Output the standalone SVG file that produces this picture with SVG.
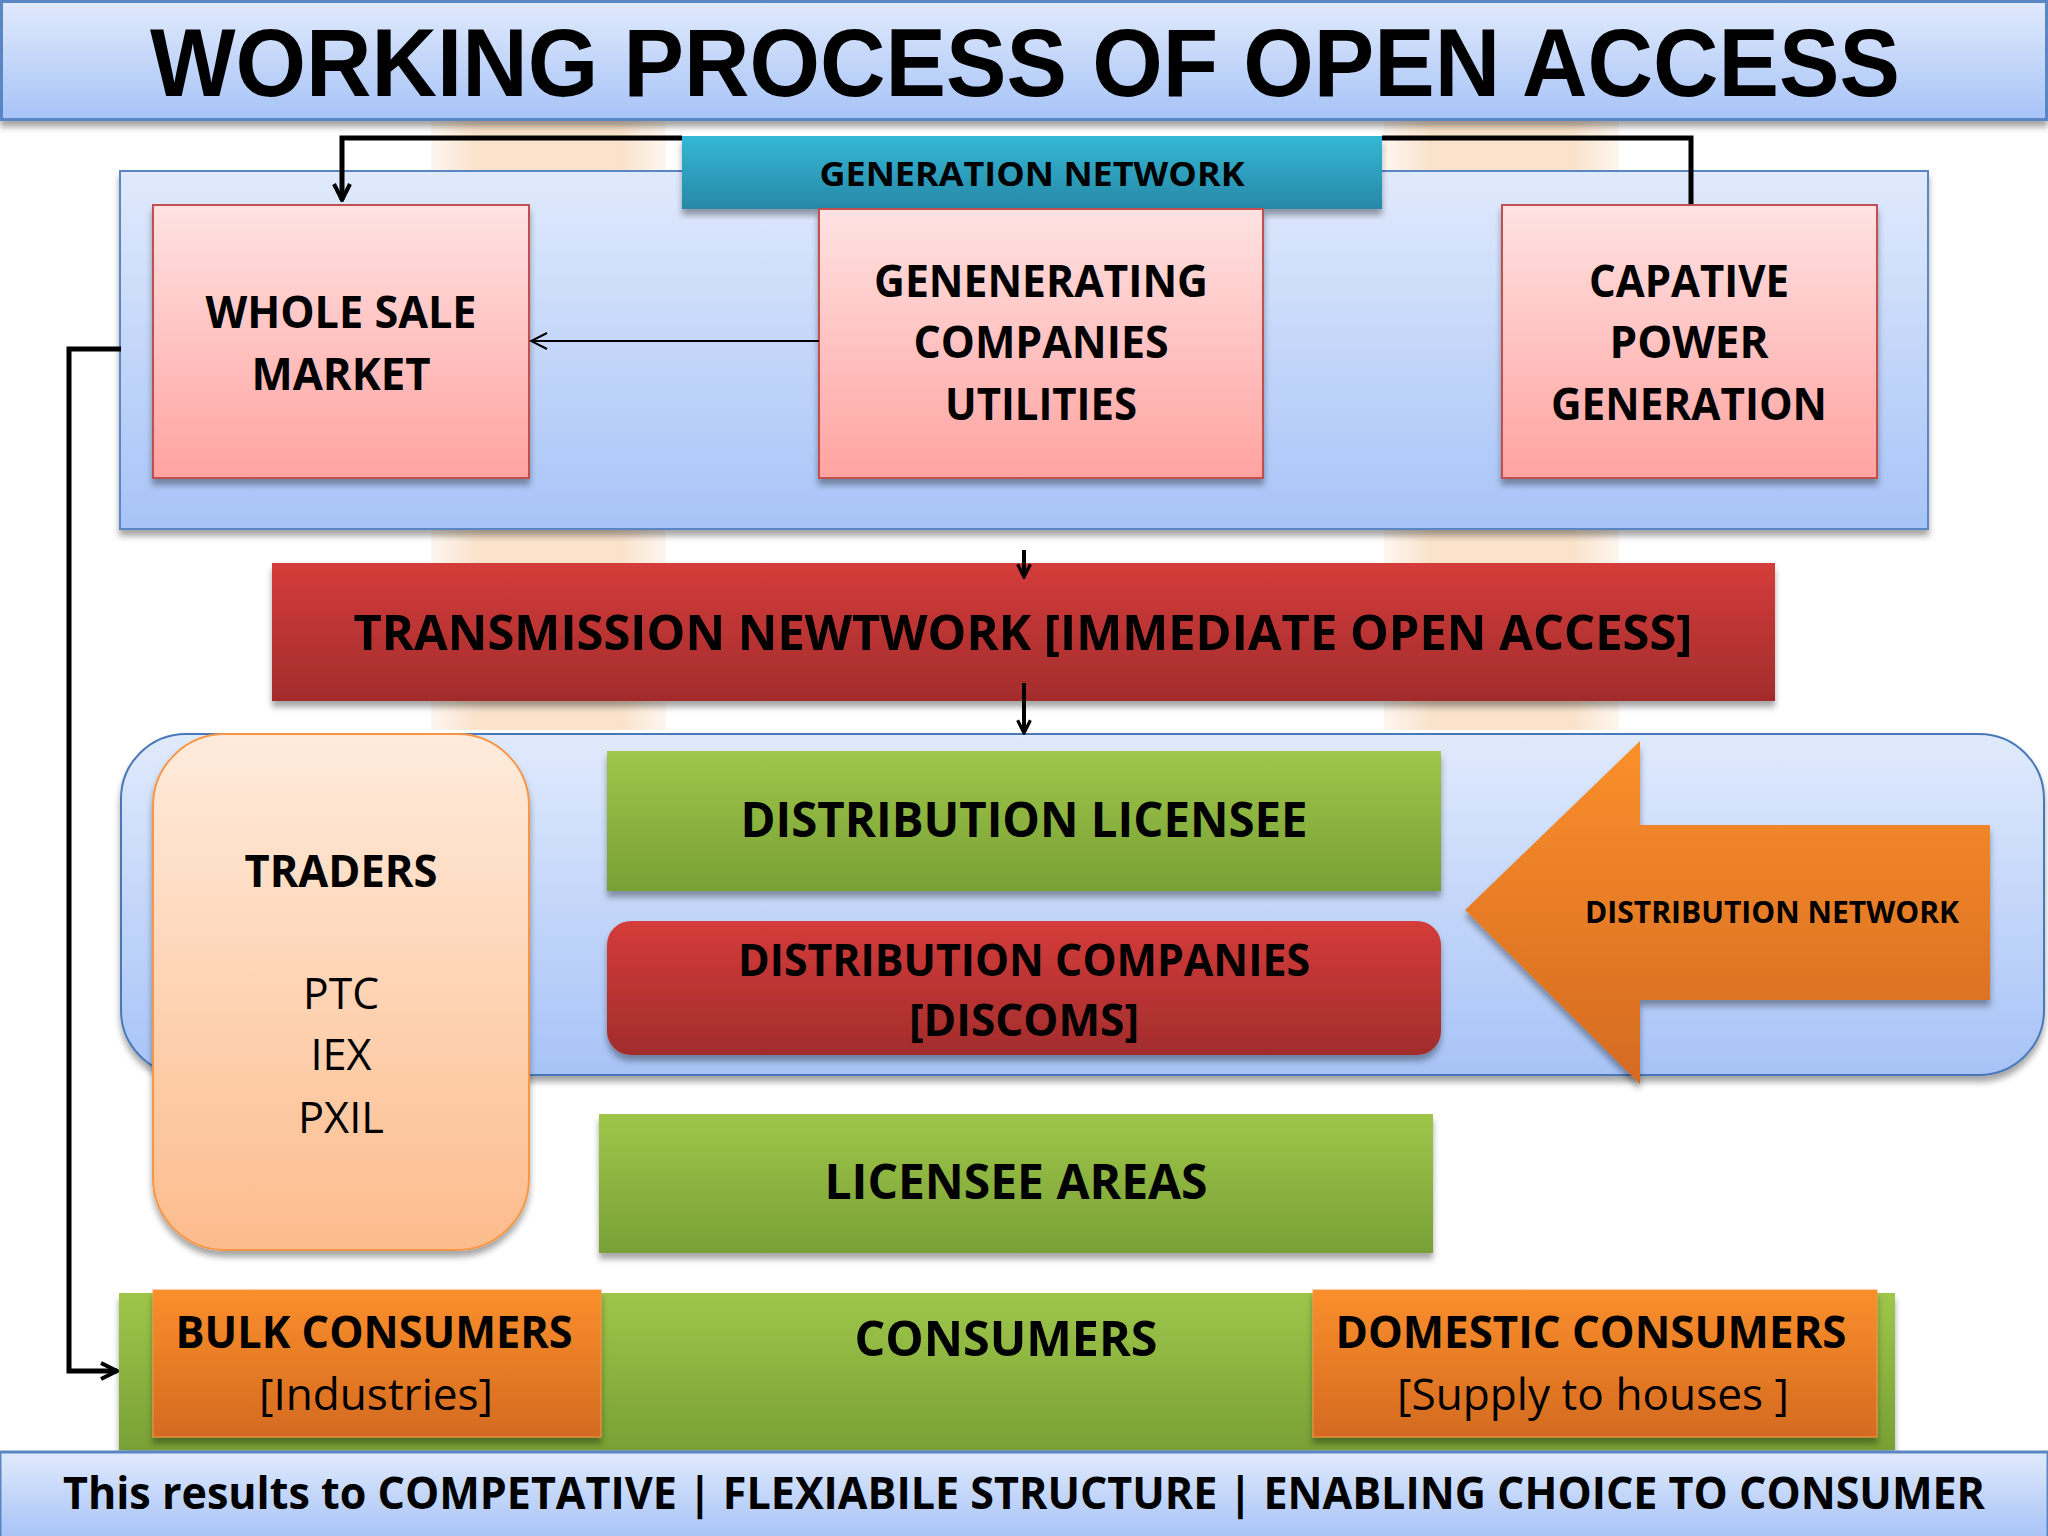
<svg xmlns="http://www.w3.org/2000/svg" width="2048" height="1536" viewBox="0 0 2048 1536">
<defs>
<linearGradient id="gBlue" x1="0" y1="0" x2="0" y2="1"><stop offset="0" stop-color="#e0eafc"/><stop offset="1" stop-color="#a7c3f7"/></linearGradient>
<linearGradient id="gTeal" x1="0" y1="0" x2="0" y2="1"><stop offset="0" stop-color="#33b8d6"/><stop offset="1" stop-color="#2888a6"/></linearGradient>
<linearGradient id="gPink" x1="0" y1="0" x2="0" y2="1"><stop offset="0" stop-color="#ffe2e2"/><stop offset="1" stop-color="#ffa3a0"/></linearGradient>
<linearGradient id="gRed" x1="0" y1="0" x2="0" y2="1"><stop offset="0" stop-color="#d43c3a"/><stop offset="1" stop-color="#a22c2c"/></linearGradient>
<linearGradient id="gGreen" x1="0" y1="0" x2="0" y2="1"><stop offset="0" stop-color="#9fc64a"/><stop offset="1" stop-color="#78a035"/></linearGradient>
<linearGradient id="gOrange" x1="0" y1="0" x2="0" y2="1"><stop offset="0" stop-color="#fa8f2c"/><stop offset="1" stop-color="#d46a20"/></linearGradient>
<linearGradient id="gPeach" x1="0" y1="0" x2="0" y2="1"><stop offset="0" stop-color="#ffebdc"/><stop offset="1" stop-color="#fcbc8c"/></linearGradient>
<linearGradient id="gWm" x1="0" y1="0" x2="1" y2="0"><stop offset="0" stop-color="#f6cfa8" stop-opacity="0.3"/><stop offset="0.2" stop-color="#f6cfa8"/><stop offset="0.8" stop-color="#f6cfa8"/><stop offset="1" stop-color="#f6cfa8" stop-opacity="0.3"/></linearGradient>
<filter id="sh" x="-5%" y="-5%" width="110%" height="120%"><feDropShadow dx="0" dy="6" stdDeviation="3" flood-color="#000" flood-opacity="0.35"/></filter>
<marker id="ah" viewBox="0 0 10 10" refX="9" refY="5" markerWidth="4" markerHeight="4" orient="auto"><path d="M1,1 L9,5 L1,9" fill="none" stroke="#000" stroke-width="2"/></marker>
<marker id="ahThin" viewBox="0 0 10 10" refX="9" refY="5" markerWidth="10" markerHeight="10" orient="auto"><path d="M1,1 L9,5 L1,9" fill="none" stroke="#000" stroke-width="1"/></marker>
<style>
text{font-family:"Open Sans","Liberation Sans",sans-serif;fill:#000;text-anchor:middle}
.b{font-weight:bold}
.r{font-weight:normal}
.t{font-family:"Liberation Sans","Open Sans",sans-serif}
.conn{fill:none;stroke:#000;stroke-width:5}
</style>
</defs>
<rect x="0" y="0" width="2048" height="1536" fill="#ffffff"/>
<g id="watermark" opacity="0.6">
<rect x="431" y="110" width="235" height="620" fill="url(#gWm)"/>
<rect x="1384" y="110" width="235" height="620" fill="url(#gWm)"/>
</g>
<g id="title">
<rect x="1.5" y="1.5" width="2045" height="118" fill="url(#gBlue)" stroke="#5a86c4" stroke-width="3" filter="url(#sh)"/>
<text class="b t" x="1025" y="96" font-size="96" textLength="1750" lengthAdjust="spacingAndGlyphs">WORKING PROCESS OF OPEN ACCESS</text>
</g>
<g id="generation-network">
<rect x="120" y="171" width="1808" height="358" fill="url(#gBlue)" stroke="#5a86c4" stroke-width="2" filter="url(#sh)"/>
</g>
<g id="connectors-top">
<path class="conn" d="M682,138 L342,138 L342,200" marker-end="url(#ah)"/>
<path class="conn" d="M1382,138 L1691,138 L1691,205"/>
</g>
<g id="gen-network-label">
<rect x="682" y="136" width="700" height="73" fill="url(#gTeal)" filter="url(#sh)"/>
<text class="b" x="1032" y="186" font-size="34" textLength="425" lengthAdjust="spacingAndGlyphs">GENERATION NETWORK</text>
</g>
<g id="wholesale-market">
<rect x="153" y="205" width="376" height="273" fill="url(#gPink)" stroke="#c0504d" stroke-width="2" filter="url(#sh)"/>
<text class="b" x="341" y="328" font-size="44" textLength="271" lengthAdjust="spacingAndGlyphs">WHOLE SALE</text>
<text class="b" x="341" y="390" font-size="44" textLength="179" lengthAdjust="spacingAndGlyphs">MARKET</text>
</g>
<g id="generating-companies">
<rect x="819" y="209" width="444" height="269" fill="url(#gPink)" stroke="#c0504d" stroke-width="2" filter="url(#sh)"/>
<text class="b" x="1041" y="297" font-size="44" textLength="334" lengthAdjust="spacingAndGlyphs">GENENERATING</text>
<text class="b" x="1041" y="358" font-size="44" textLength="255" lengthAdjust="spacingAndGlyphs">COMPANIES</text>
<text class="b" x="1041" y="420" font-size="44" textLength="192" lengthAdjust="spacingAndGlyphs">UTILITIES</text>
</g>
<g id="captive-power">
<rect x="1502" y="205" width="375" height="273" fill="url(#gPink)" stroke="#c0504d" stroke-width="2" filter="url(#sh)"/>
<text class="b" x="1689" y="297" font-size="44" textLength="200" lengthAdjust="spacingAndGlyphs">CAPATIVE</text>
<text class="b" x="1689" y="358" font-size="44" textLength="159" lengthAdjust="spacingAndGlyphs">POWER</text>
<text class="b" x="1689" y="420" font-size="44" textLength="276" lengthAdjust="spacingAndGlyphs">GENERATION</text>
</g>
<g id="transmission">
<rect x="272" y="563" width="1503" height="138" fill="url(#gRed)" filter="url(#sh)"/>
<text class="b" x="1023" y="650" font-size="48" textLength="1339" lengthAdjust="spacingAndGlyphs">TRANSMISSION NEWTWORK [IMMEDIATE OPEN ACCESS]</text>
</g>
<g id="distribution-network">
<rect x="121" y="734" width="1923" height="341" rx="65" ry="65" fill="url(#gBlue)" stroke="#4a78b8" stroke-width="2" filter="url(#sh)"/>
</g>
<g id="traders">
<rect x="153" y="734" width="376" height="516" rx="72" ry="72" fill="url(#gPeach)" stroke="#f79646" stroke-width="2" filter="url(#sh)"/>
<text class="b" x="341" y="887" font-size="44" textLength="193" lengthAdjust="spacingAndGlyphs">TRADERS</text>
<text class="r" x="341" y="1009" font-size="44" textLength="76" lengthAdjust="spacingAndGlyphs">PTC</text>
<text class="r" x="341" y="1070" font-size="44" textLength="61" lengthAdjust="spacingAndGlyphs">IEX</text>
<text class="r" x="341" y="1133" font-size="44" textLength="86" lengthAdjust="spacingAndGlyphs">PXIL</text>
</g>
<g id="distribution-licensee">
<rect x="607" y="751" width="834" height="140" fill="url(#gGreen)" filter="url(#sh)"/>
<text class="b" x="1024" y="837" font-size="48" textLength="567" lengthAdjust="spacingAndGlyphs">DISTRIBUTION LICENSEE</text>
</g>
<g id="distribution-companies">
<rect x="607" y="921" width="834" height="134" rx="24" ry="24" fill="url(#gRed)" filter="url(#sh)"/>
<text class="b" x="1024" y="976" font-size="44" textLength="572" lengthAdjust="spacingAndGlyphs">DISTRIBUTION COMPANIES</text>
<text class="b" x="1024" y="1036" font-size="44" textLength="230" lengthAdjust="spacingAndGlyphs">[DISCOMS]</text>
</g>
<g id="distribution-network-arrow">
<polygon points="1465,910 1640,741 1640,825 1990,825 1990,1000 1640,1000 1640,1084" fill="url(#gOrange)" filter="url(#sh)"/>
<text class="b" x="1772" y="923" font-size="31" textLength="374" lengthAdjust="spacingAndGlyphs">DISTRIBUTION NETWORK</text>
</g>
<g id="licensee-areas">
<rect x="599" y="1114" width="834" height="139" fill="url(#gGreen)" filter="url(#sh)"/>
<text class="b" x="1016" y="1199" font-size="48" textLength="383" lengthAdjust="spacingAndGlyphs">LICENSEE AREAS</text>
</g>
<g id="consumers">
<rect x="119" y="1293" width="1776" height="157" fill="url(#gGreen)" filter="url(#sh)"/>
<text class="b" x="1006" y="1356" font-size="48" textLength="303" lengthAdjust="spacingAndGlyphs">CONSUMERS</text>
</g>
<g id="bulk-consumers">
<rect x="153" y="1290" width="448" height="147" fill="url(#gOrange)" stroke="#f79646" stroke-width="1" filter="url(#sh)"/>
<text class="b" x="374" y="1348" font-size="44" textLength="397" lengthAdjust="spacingAndGlyphs">BULK CONSUMERS</text>
<text class="r" x="376" y="1410" font-size="44" textLength="234" lengthAdjust="spacingAndGlyphs">[Industries]</text>
</g>
<g id="domestic-consumers">
<rect x="1313" y="1290" width="564" height="147" fill="url(#gOrange)" stroke="#f79646" stroke-width="1" filter="url(#sh)"/>
<text class="b" x="1591" y="1348" font-size="44" textLength="511" lengthAdjust="spacingAndGlyphs">DOMESTIC CONSUMERS</text>
<text class="r" x="1593" y="1410" font-size="44" textLength="392" lengthAdjust="spacingAndGlyphs">[Supply to houses ]</text>
</g>
<g id="footer">
<rect x="0" y="1452" width="2048" height="86" fill="url(#gBlue)" stroke="#5a86c4" stroke-width="3"/>
<text class="b" x="1024" y="1509" font-size="44" textLength="1922" lengthAdjust="spacingAndGlyphs">This results to COMPETATIVE | FLEXIABILE STRUCTURE | ENABLING CHOICE TO CONSUMER</text>
</g>
<g id="connectors">
<line x1="819" y1="341" x2="531" y2="341" stroke="#000" stroke-width="2" marker-end="url(#ahThin)"/>
<line x1="1024" y1="550" x2="1024" y2="577" stroke="#000" stroke-width="4" marker-end="url(#ah)"/>
<line x1="1024" y1="683" x2="1024" y2="733" stroke="#000" stroke-width="4" marker-end="url(#ah)"/>
<path class="conn" d="M121,349 L69,349 L69,1371 L117,1371" marker-end="url(#ah)"/>
</g>
</svg>
